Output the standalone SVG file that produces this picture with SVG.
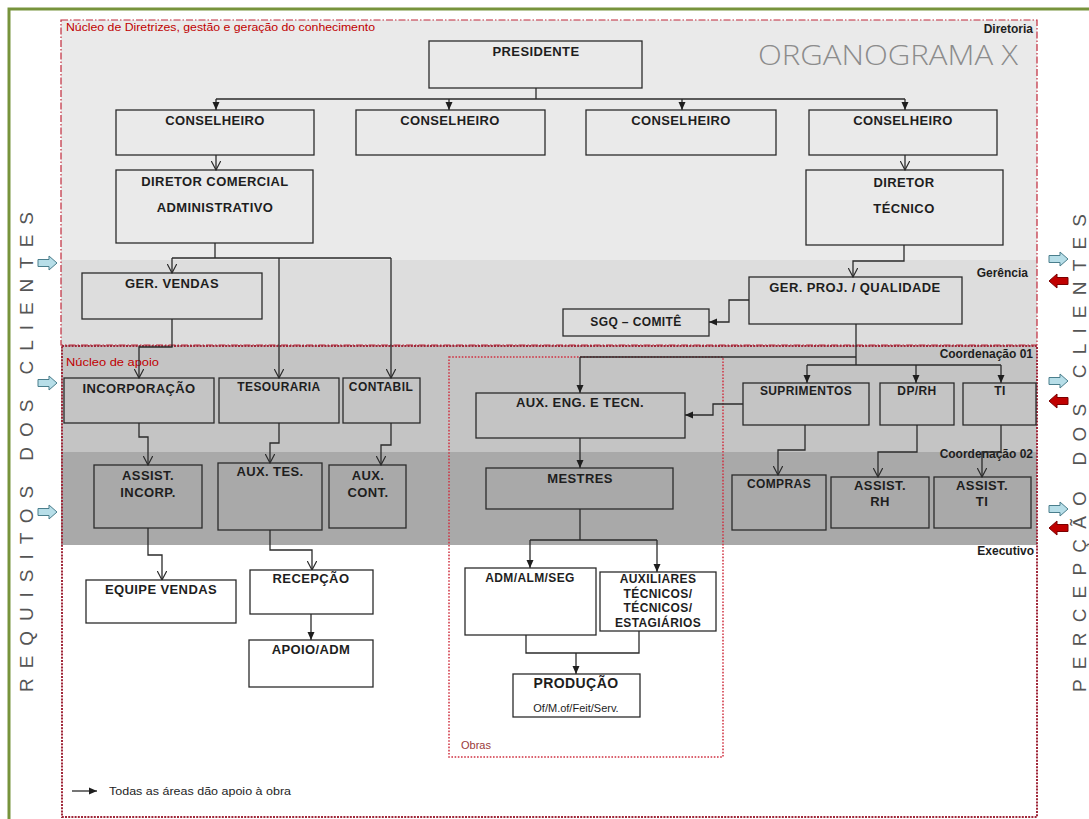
<svg xmlns="http://www.w3.org/2000/svg" width="1089" height="819" viewBox="0 0 1089 819">
  <defs>
    <style>
      .box { fill: none; stroke: #2b2b2b; stroke-width: 1.3; }
      .wbox { fill: #ffffff; stroke: #2b2b2b; stroke-width: 1.3; }
      .lbl { font-family: "Liberation Sans", Arial, sans-serif; font-weight: bold; font-size: 13px; fill: #1e1e1e; text-anchor: middle; letter-spacing: 0.4px; }
      .sm { font-size: 12px; }
      .zone { font-family: "Liberation Sans", Arial, sans-serif; font-weight: bold; font-size: 12px; fill: #1e1e1e; text-anchor: end; }
      .red { font-family: "Liberation Sans", Arial, sans-serif; font-size: 10px; fill: #c00000; }
      .side { font-family: "Liberation Sans", Arial, sans-serif; font-size: 19px; fill: #555555; }
      .con { fill: none; stroke: #2b2b2b; stroke-width: 1.3; }
      .fa { marker-end: url(#filled); }
      .oa { marker-end: url(#open); }
      .blue { fill: #b7dee8; stroke: #4a7e8c; stroke-width: 1; }
      .redarr { fill: #c00000; stroke: #7a0000; stroke-width: 1; }
    </style>
    <marker id="filled" viewBox="0 0 8 8" refX="8" refY="4" markerWidth="8" markerHeight="8" markerUnits="userSpaceOnUse" orient="auto">
      <path d="M0,0.5 L8,4 L0,7.5 Z" fill="#1e1e1e"/>
    </marker>
    <marker id="open" viewBox="0 0 10 10" refX="9.5" refY="5" markerWidth="10" markerHeight="10" markerUnits="userSpaceOnUse" orient="auto">
      <path d="M0,0 L9.5,5 L0,10" fill="none" stroke="#2b2b2b" stroke-width="1.2"/>
    </marker>
    <path id="arrR" d="M0,-3.5 H11 V-7 L19,0 L11,7 V3.5 H0 Z"/>
  </defs>

  <!-- page -->
  <rect x="0" y="0" width="1089" height="819" fill="#ffffff"/>
  <rect x="9" y="9" width="1100" height="830" fill="none" stroke="#77933c" stroke-width="3"/>

  <!-- level bands -->
  <rect x="61" y="20" width="976" height="325" fill="#eaeaea"/>
  <rect x="61" y="260" width="976" height="85" fill="#dddddd"/>
  <rect x="61" y="345" width="976" height="107" fill="#c4c4c4"/>
  <rect x="61" y="452" width="976" height="93" fill="#a9a9a9"/>

  <!-- zone outlines -->
  <rect x="61" y="20" width="976" height="325" fill="none" stroke="#c0283a" stroke-width="1.2" stroke-dasharray="7,2,1.5,2"/>
  <rect x="62" y="346" width="975" height="471" fill="none" stroke="#a0283a" stroke-width="2" stroke-dasharray="2,1.2"/>
  <rect x="449" y="357" width="274" height="400" fill="none" stroke="#d03040" stroke-width="1.5" stroke-dasharray="1.6,1.6"/>

  <!-- zone labels -->
  <text class="red" x="66" y="31" textLength="309" lengthAdjust="spacingAndGlyphs">Núcleo de Diretrizes, gestão e geração do conhecimento</text>
  <text class="red" x="66" y="366" textLength="93" lengthAdjust="spacingAndGlyphs">Núcleo de apoio</text>
  <text class="red" x="461" y="749" style="font-size:11px;fill:#9a3a3a">Obras</text>
  <text class="zone" x="1033" y="33">Diretoria</text>
  <text class="zone" x="1028" y="277">Gerência</text>
  <text class="zone" x="1033" y="358">Coordenação 01</text>
  <text class="zone" x="1033" y="458">Coordenação 02</text>
  <text class="zone" x="1034" y="555">Executivo</text>
  <text x="1018" y="65" text-anchor="end" textLength="260" lengthAdjust="spacingAndGlyphs" style="font-family:'Open Sans','Liberation Sans',sans-serif;font-weight:300;font-size:28px;fill:#8c8c8c">ORGANOGRAMA X</text>

  <!-- side captions -->
  <text class="side" transform="translate(33,692) rotate(-90)" x="0" y="0" textLength="480" lengthAdjust="spacing">REQUISITOS DOS CLIENTES</text>
  <text class="side" transform="translate(1086,692) rotate(-90)" x="0" y="0" textLength="478" lengthAdjust="spacing">PERCEPÇÃO DOS CLIENTES</text>

  <!-- side arrows -->
  <g id="side-arrows">
    <use href="#arrR" class="blue" transform="translate(38,263)"/>
    <use href="#arrR" class="blue" transform="translate(38,383)"/>
    <use href="#arrR" class="blue" transform="translate(38,512)"/>
    <use href="#arrR" class="blue" transform="translate(1049,259)"/>
    <use href="#arrR" class="redarr" transform="translate(1068,281) scale(-1,1)"/>
    <use href="#arrR" class="blue" transform="translate(1049,381)"/>
    <use href="#arrR" class="redarr" transform="translate(1068,401) scale(-1,1)"/>
    <use href="#arrR" class="blue" transform="translate(1049,509)"/>
    <use href="#arrR" class="redarr" transform="translate(1068,528) scale(-1,1)"/>
  </g>

  <!-- connectors -->
  <g id="connectors">
    <path class="con" d="M536,88 V99 M216,99 H905"/>
    <path class="con fa" d="M216,99 V110"/>
    <path class="con fa" d="M449,99 V110"/>
    <path class="con fa" d="M682,99 V110"/>
    <path class="con fa" d="M905,99 V110"/>
    <path class="con oa" d="M216,155 V170"/>
    <path class="con oa" d="M905,155 V170"/>
    <path class="con" d="M215,243 V258 M172,258 H391"/>
    <path class="con oa" d="M172,258 V273"/>
    <path class="con oa" d="M279,258 V378"/>
    <path class="con oa" d="M391,258 V378"/>
    <path class="con oa" d="M172,319 V347 H139 V378"/>
    <path class="con oa" d="M139,423 V437 H148 V465"/>
    <path class="con oa" d="M279,423 V443 H270 V463"/>
    <path class="con oa" d="M391,423 V445 H381 V465"/>
    <path class="con oa" d="M148,528 V555 H162 V580"/>
    <path class="con oa" d="M270,530 V550 H312 V570"/>
    <path class="con fa" d="M311,614 V640"/>
    <path class="con oa" d="M904,245 V261 H853 V277"/>
    <path class="con fa" d="M749,300 H729 V322 H709"/>
    <path class="con" d="M856,324 V365 M580,357 H856 M807,365 H1001"/>
    <path class="con fa" d="M580,357 V393"/>
    <path class="con fa" d="M807,365 V383"/>
    <path class="con fa" d="M916,365 V383"/>
    <path class="con fa" d="M1001,365 V383"/>
    <path class="con fa" d="M743,404 H713 V415 H685"/>
    <path class="con oa" d="M805,425 V450 H778 V475"/>
    <path class="con oa" d="M917,425 V452 H878 V477"/>
    <path class="con oa" d="M1001,425 V452 H982 V477"/>
    <path class="con fa" d="M580,438 V468"/>
    <path class="con" d="M580,509 V540 M530,540 H657"/>
    <path class="con fa" d="M530,540 V568"/>
    <path class="con fa" d="M657,540 V572"/>
    <path class="con" d="M526,635 V653 H576 M639,631 V653 H576"/>
    <path class="con fa" d="M576,653 V674"/>
    <path class="con fa" d="M72,791 H97"/>
  </g>

  <!-- nodes -->
  <g id="presidente"><rect class="box" x="429" y="41" width="213" height="47"/><text class="lbl" x="536" y="56">PRESIDENTE</text></g>
  <g id="conselheiro-1"><rect class="box" x="116" y="110" width="198" height="45"/><text class="lbl" x="215" y="125">CONSELHEIRO</text></g>
  <g id="conselheiro-2"><rect class="box" x="356" y="110" width="189" height="45"/><text class="lbl" x="450" y="125">CONSELHEIRO</text></g>
  <g id="conselheiro-3"><rect class="box" x="586" y="110" width="190" height="45"/><text class="lbl" x="681" y="125">CONSELHEIRO</text></g>
  <g id="conselheiro-4"><rect class="box" x="809" y="110" width="188" height="45"/><text class="lbl" x="903" y="125">CONSELHEIRO</text></g>
  <g id="diretor-comercial"><rect class="box" x="116" y="170" width="197" height="73"/><text class="lbl" x="215" y="186">DIRETOR COMERCIAL</text><text class="lbl" x="215" y="212">ADMINISTRATIVO</text></g>
  <g id="diretor-tecnico"><rect class="box" x="806" y="170" width="197" height="75"/><text class="lbl" x="904" y="187">DIRETOR</text><text class="lbl" x="904" y="213">TÉCNICO</text></g>
  <g id="ger-vendas"><rect class="box" x="82" y="273" width="180" height="46"/><text class="lbl" x="172" y="288">GER. VENDAS</text></g>
  <g id="ger-proj"><rect class="box" x="749" y="277" width="213" height="47"/><text class="lbl" x="855" y="292">GER. PROJ. / QUALIDADE</text></g>
  <g id="sgq"><rect class="box" x="563" y="309" width="146" height="27"/><text class="lbl sm" x="636" y="326">SGQ – COMITÊ</text></g>
  <g id="incorporacao"><rect class="box" x="64" y="378" width="150" height="45"/><text class="lbl" x="139" y="393">INCORPORAÇÃO</text></g>
  <g id="tesouraria"><rect class="box" x="219" y="378" width="120" height="45"/><text class="lbl sm" x="279" y="391">TESOURARIA</text></g>
  <g id="contabil"><rect class="box" x="343" y="378" width="77" height="45"/><text class="lbl sm" x="381" y="391">CONTABIL</text></g>
  <g id="aux-eng"><rect class="box" x="476" y="393" width="209" height="45"/><text class="lbl" x="580" y="407">AUX. ENG. E TECN.</text></g>
  <g id="suprimentos"><rect class="box" x="743" y="383" width="126" height="42"/><text class="lbl sm" x="806" y="395">SUPRIMENTOS</text></g>
  <g id="dp-rh"><rect class="box" x="880" y="383" width="74" height="42"/><text class="lbl sm" x="917" y="395">DP/RH</text></g>
  <g id="ti"><rect class="box" x="963" y="383" width="73" height="42"/><text class="lbl sm" x="1000" y="395">TI</text></g>
  <g id="assist-incorp"><rect class="box" x="94" y="465" width="108" height="63"/><text class="lbl" x="148" y="480">ASSIST.</text><text class="lbl" x="148" y="497">INCORP.</text></g>
  <g id="aux-tes"><rect class="box" x="218" y="463" width="104" height="67"/><text class="lbl" x="270" y="476">AUX. TES.</text></g>
  <g id="aux-cont"><rect class="box" x="329" y="465" width="77" height="63"/><text class="lbl" x="368" y="480">AUX.</text><text class="lbl" x="368" y="497">CONT.</text></g>
  <g id="mestres"><rect class="box" x="486" y="468" width="187" height="41"/><text class="lbl" x="580" y="483">MESTRES</text></g>
  <g id="compras"><rect class="box" x="732" y="475" width="94" height="55"/><text class="lbl sm" x="779" y="488">COMPRAS</text></g>
  <g id="assist-rh"><rect class="box" x="831" y="477" width="98" height="51"/><text class="lbl" x="880" y="490">ASSIST.</text><text class="lbl" x="880" y="506">RH</text></g>
  <g id="assist-ti"><rect class="box" x="934" y="477" width="97" height="51"/><text class="lbl" x="982" y="490">ASSIST.</text><text class="lbl" x="982" y="506">TI</text></g>
  <g id="equipe-vendas"><rect class="wbox" x="86" y="580" width="150" height="43"/><text class="lbl" x="161" y="594">EQUIPE VENDAS</text></g>
  <g id="recepcao"><rect class="wbox" x="250" y="570" width="123" height="44"/><text class="lbl" x="311" y="583">RECEPÇÃO</text></g>
  <g id="apoio-adm"><rect class="wbox" x="249" y="640" width="124" height="47"/><text class="lbl" x="311" y="654">APOIO/ADM</text></g>
  <g id="adm-alm-seg"><rect class="wbox" x="465" y="568" width="131" height="67"/><text class="lbl sm" x="530" y="582">ADM/ALM/SEG</text></g>
  <g id="auxiliares"><rect class="wbox" x="600" y="572" width="116" height="59"/>
    <text class="lbl sm" x="658" y="583">AUXILIARES</text>
    <text class="lbl sm" x="658" y="598">TÉCNICOS/</text>
    <text class="lbl sm" x="658" y="612">TÉCNICOS/</text>
    <text class="lbl sm" x="658" y="627">ESTAGIÁRIOS</text>
  </g>
  <g id="producao"><rect class="wbox" x="513" y="674" width="127" height="43"/><text class="lbl" x="576" y="688" style="font-size:14px">PRODUÇÃO</text><text x="576" y="712" text-anchor="middle" style="font-family:'Liberation Sans',Arial,sans-serif;font-size:11px;fill:#1e1e1e">Of/M.of/Feit/Serv.</text></g>

  <!-- legend -->
  <text x="109" y="795" textLength="182" lengthAdjust="spacingAndGlyphs" style="font-family:'Liberation Sans',Arial,sans-serif;font-size:11px;fill:#1e1e1e">Todas as áreas dão apoio à obra</text>
</svg>
